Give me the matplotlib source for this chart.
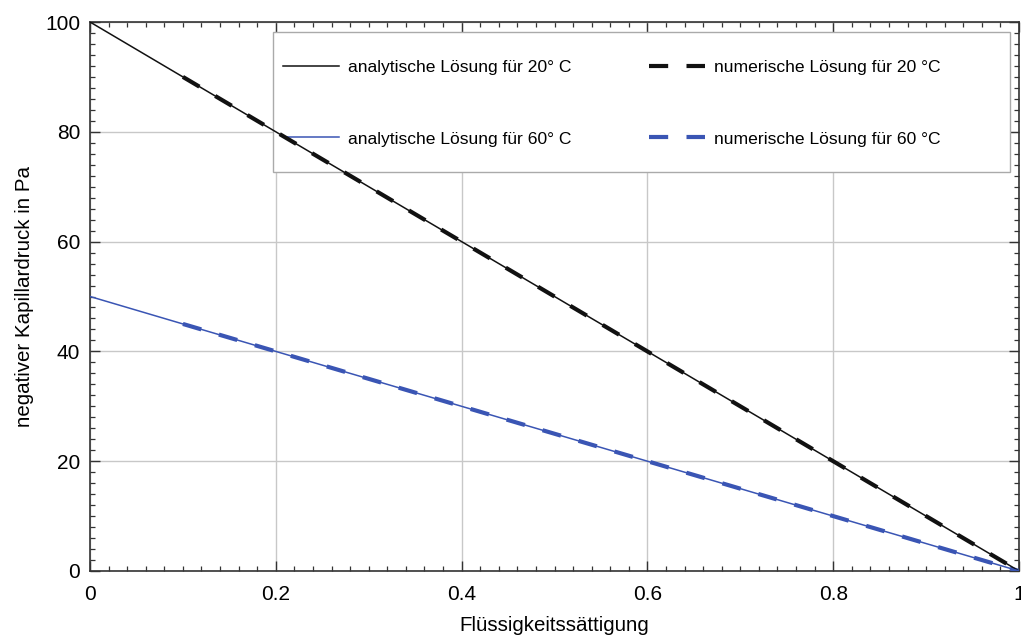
import matplotlib
matplotlib.use("Agg")
import matplotlib.pyplot as plt
from matplotlib.ticker import MultipleLocator
from matplotlib.patches import Rectangle

plt.rcParams['font.family'] = ['Liberation Sans', 'DejaVu Sans']

# analytic solutions (straight lines, endpoints)
s_analytic = [0.0, 1.0]
p_analytic_20 = [100.0, 0.0]
p_analytic_60 = [50.0, 0.0]

# numerical solutions
s_numeric = [0.1, 0.2, 0.3, 0.4, 0.5, 0.6, 0.7, 0.8, 0.9, 1.0]
p_numeric_20 = [90, 80, 70, 60, 50, 40, 30, 20, 10, 0]
p_numeric_60 = [45, 40, 35, 30, 25, 20, 15, 10, 5, 0]

label_a20 = "analytische Lösung für 20° C"
label_n20 = "numerische Lösung für 20 °C"
label_a60 = "analytische Lösung für 60° C"
label_n60 = "numerische Lösung für 60 °C"

black = '#111111'
blue = '#3a55b4'

fig = plt.figure(figsize=(10.21, 6.37), dpi=100)
ax = fig.add_axes([90/1021, 66/637, 929/1021, 549/637])

ln_n20, = ax.plot(s_numeric, p_numeric_20, color=black, lw=3.0, dashes=(4.6, 4.4),
                  dash_capstyle='butt', zorder=3)
ln_n60, = ax.plot(s_numeric, p_numeric_60, color=blue, lw=3.0, dashes=(4.6, 4.4),
                  dash_capstyle='butt', zorder=3)
ln_a20, = ax.plot(s_analytic, p_analytic_20, color=black, lw=1.1, zorder=4)
ln_a60, = ax.plot(s_analytic, p_analytic_60, color=blue, lw=1.1, zorder=4)

ax.set_xlim(0, 1)
ax.set_ylim(0, 100)
ax.xaxis.set_major_locator(MultipleLocator(0.2))
ax.xaxis.set_minor_locator(MultipleLocator(0.02))
ax.yaxis.set_major_locator(MultipleLocator(20))
ax.yaxis.set_minor_locator(MultipleLocator(2))
ax.set_xticks([0, 0.2, 0.4, 0.6, 0.8, 1.0])
ax.set_xticklabels(["0", "0.2", "0.4", "0.6", "0.8", "1"])

ax.tick_params(which='both', direction='in', top=True, right=True, color='#333333')
ax.tick_params(which='major', length=7, width=1.0, labelsize=15)
ax.tick_params(axis='x', which='major', pad=10)
ax.tick_params(axis='y', which='major', pad=7)
ax.tick_params(which='minor', length=3.5, width=0.9)
for sp in ax.spines.values():
    sp.set_color('#333333')
    sp.set_linewidth(1.2)

ax.grid(True, which='major', color='#c8c8c8', lw=1.0, zorder=0)
ax.set_axisbelow(True)

ax.set_xlabel("Flüssigkeitssättigung", fontsize=14.8, labelpad=9)
ax.set_ylabel("negativer Kapillardruck in Pa", fontsize=14.8, labelpad=8)

# legend frame
frame = Rectangle((0.197, 0.727), 0.793, 0.255, transform=ax.transAxes,
                  facecolor='white', edgecolor='#aaaaaa', lw=1.0, zorder=2.4)
ax.add_patch(frame)

leg = ax.legend([ln_a20, ln_a60, ln_n20, ln_n60],
                [label_a20, label_a60, label_n20, label_n60], ncol=2,
                loc='center left', bbox_to_anchor=(0.2077, 0.852),
                borderaxespad=0, borderpad=0, fontsize=12.6, frameon=False,
                handlelength=3.2, handletextpad=0.5, labelspacing=3.2,
                columnspacing=4.45)
leg.set_zorder(2.5)

fig.savefig("out.png", dpi=100)
